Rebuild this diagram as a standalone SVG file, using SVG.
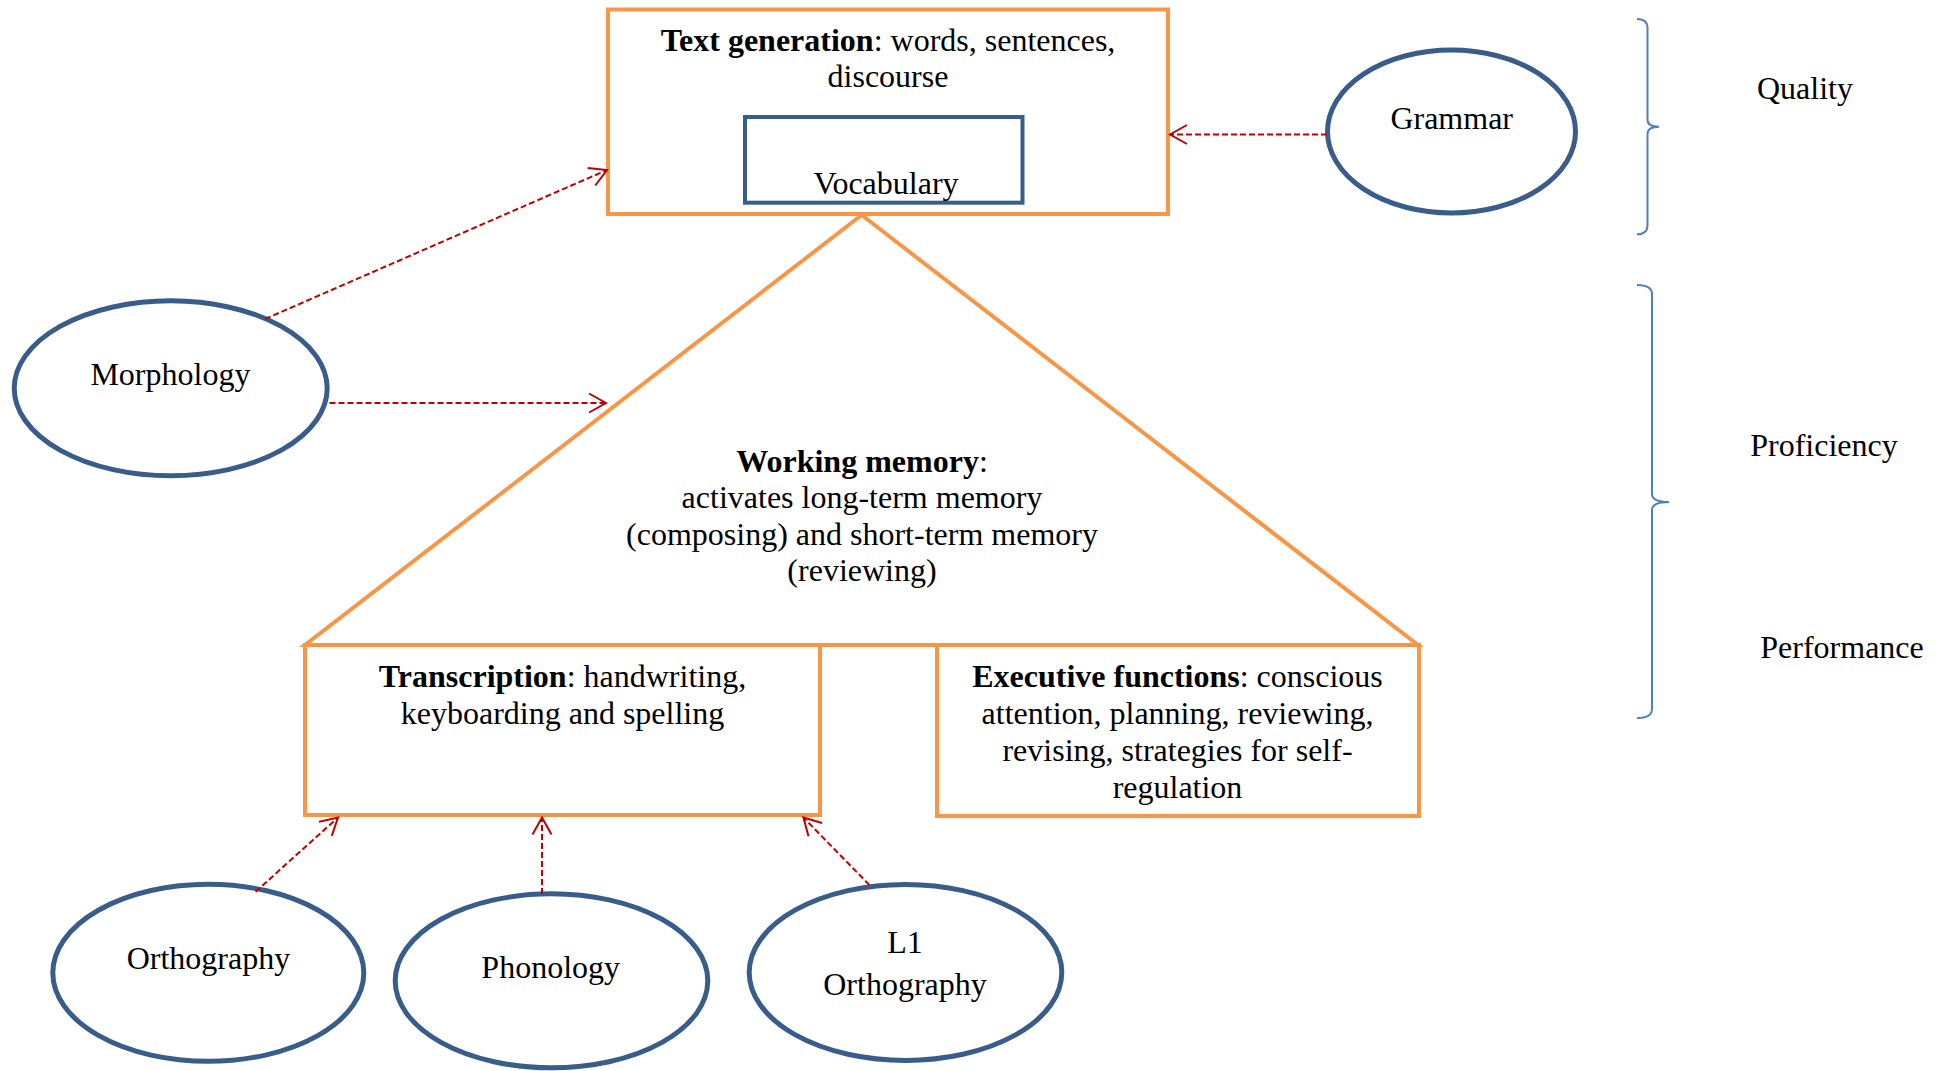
<svg xmlns="http://www.w3.org/2000/svg" width="1941" height="1071" viewBox="0 0 1941 1071">
<style>
text{font-family:"Liberation Serif","Times New Roman",serif;font-size:32px;fill:#000;text-anchor:middle}
.b{font-weight:bold}
.orange{fill:none;stroke:#F79646;stroke-width:4}
.oval{fill:none;stroke:#385D8A;stroke-width:5}
.vocab{fill:none;stroke:#385D8A;stroke-width:4}
.brace{fill:none;stroke:#4F81BD;stroke-width:2}
.conn{fill:none;stroke:#C00000;stroke-width:2;stroke-dasharray:6 3;marker-end:url(#arr)}
</style>
<defs>
<marker id="arr" viewBox="-19 -12 21 24" refX="0" refY="0" markerWidth="21" markerHeight="24" markerUnits="userSpaceOnUse" orient="auto">
<path d="M-17,-9.5 L0,0 L-17,9.5" fill="none" stroke="#C00000" stroke-width="2"/>
</marker>
</defs>
<rect width="1941" height="1071" fill="#fff"/>

<g id="triangle">
<polygon class="orange" points="861.7,215 1418,645 305,645"/>
</g>

<g id="text-generation">
<rect class="orange" x="608" y="9.5" width="560" height="204.5"/>
<text x="888" y="51"><tspan class="b">Text generation</tspan>: words, sentences,</text>
<text x="888" y="87">discourse</text>
</g>

<g id="vocabulary">
<rect class="vocab" x="745" y="117" width="277.5" height="85.7"/>
<text x="886" y="194">Vocabulary</text>
</g>

<g id="working-memory">
<text x="862" y="471.5"><tspan class="b">Working memory</tspan>:</text>
<text x="862" y="508">activates long-term memory</text>
<text x="862" y="544.5">(composing) and short-term memory</text>
<text x="862" y="581">(reviewing)</text>
</g>

<g id="transcription">
<rect class="orange" x="305" y="645" width="515" height="170"/>
<text x="562.5" y="686.5"><tspan class="b">Transcription</tspan>: handwriting,</text>
<text x="562.5" y="723.5">keyboarding and spelling</text>
</g>

<g id="executive-functions">
<rect class="orange" x="937" y="645" width="482" height="171"/>
<text x="1177.5" y="686.5"><tspan class="b">Executive functions</tspan>: conscious</text>
<text x="1177.5" y="723.5">attention, planning, reviewing,</text>
<text x="1177.5" y="760.5">revising, strategies for self-</text>
<text x="1177.5" y="797.5">regulation</text>
</g>

<g id="grammar">
<ellipse class="oval" cx="1451.5" cy="131.5" rx="124" ry="81.5"/>
<text x="1451.7" y="129">Grammar</text>
</g>

<g id="morphology">
<ellipse class="oval" cx="170.7" cy="388.3" rx="156.5" ry="87.5"/>
<text x="170.4" y="385">Morphology</text>
</g>

<g id="orthography">
<ellipse class="oval" cx="208.3" cy="972.8" rx="155.5" ry="88.5"/>
<text x="208.4" y="969">Orthography</text>
</g>

<g id="phonology">
<ellipse class="oval" cx="551.5" cy="980.8" rx="156.3" ry="87"/>
<text x="550.7" y="977.7">Phonology</text>
</g>

<g id="l1-orthography">
<ellipse class="oval" cx="905.5" cy="972.4" rx="156.3" ry="88"/>
<text x="905" y="952.7">L1</text>
<text x="905" y="995">Orthography</text>
</g>

<g id="labels">
<path class="brace" d="M1637,19 Q1647.5,19 1647.5,28 L1647.5,120 Q1647.5,126.7 1659,126.7 Q1647.5,126.7 1647.5,134 L1647.5,225 Q1647.5,234.3 1637,234.3"/>
<text x="1805" y="99">Quality</text>
<path class="brace" d="M1637,285 Q1652,285 1652,294 L1652,494 Q1652,502 1669,502 Q1652,502 1652,510 L1652,709 Q1652,718 1637,718"/>
<text x="1824" y="456">Proficiency</text>
<text x="1842" y="658">Performance</text>
</g>

<g id="connectors">
<line class="conn" x1="265" y1="319" x2="607" y2="170"/>
<line class="conn" x1="329.5" y1="403" x2="606" y2="403"/>
<line class="conn" x1="1327" y1="134.5" x2="1170" y2="134.5"/>
<line class="conn" x1="255.6" y1="891.7" x2="338" y2="817.5"/>
<line class="conn" x1="542" y1="894" x2="542" y2="817.5"/>
<line class="conn" x1="869.4" y1="885" x2="803.4" y2="817.5"/>
</g>
</svg>
